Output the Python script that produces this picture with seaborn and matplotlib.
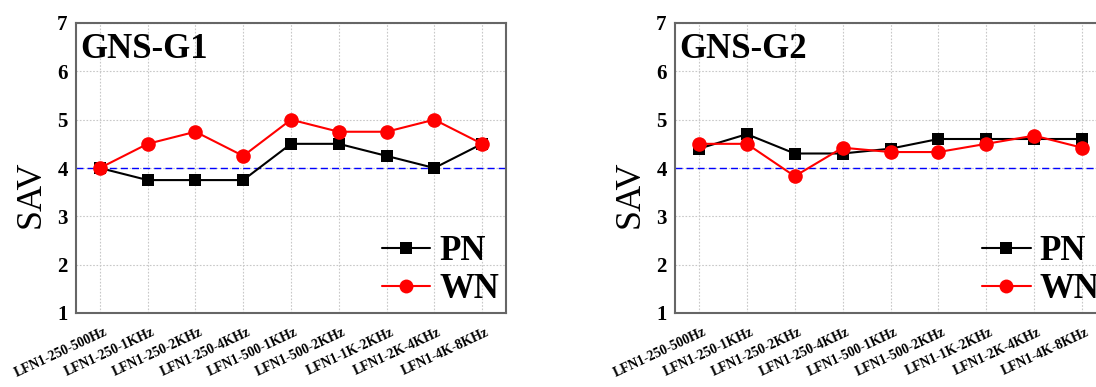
import matplotlib
matplotlib.use("Agg")
import matplotlib.pyplot as plt
import matplotlib.transforms as mtransforms
import numpy as np
import pandas as pd
import seaborn as sns

# Frequency-band conditions on the x axis
categories = [
    "LFN1-250-500Hz", "LFN1-250-1KHz", "LFN1-250-2KHz", "LFN1-250-4KHz",
    "LFN1-500-1KHz", "LFN1-500-2KHz", "LFN1-1K-2KHz", "LFN1-2K-4KHz",
    "LFN1-4K-8KHz",
]

# Mean SAV scores per group and noise type
g1_pn = [4.0, 3.75, 3.75, 3.75, 4.5, 4.5, 4.25, 4.0, 4.5]
g1_wn = [4.0, 4.5, 4.75, 4.25, 5.0, 4.75, 4.75, 5.0, 4.5]
g2_pn = [4.4, 4.7, 4.3, 4.3, 4.4, 4.6, 4.6, 4.6, 4.6]
g2_wn = [4.5, 4.5, 3.83, 4.42, 4.33, 4.33, 4.5, 4.67, 4.42]

panels = [("GNS-G1", g1_pn, g1_wn), ("GNS-G2", g2_pn, g2_wn)]
reference_level = 4.0
y_ticks = [1, 2, 3, 4, 5, 6, 7]

sns.set_theme(style="white")
plt.rcParams["font.family"] = ["Liberation Serif", "DejaVu Serif"]
plt.rcParams["axes.unicode_minus"] = False
plt.rcParams["text.color"] = "black"
plt.rcParams["axes.labelcolor"] = "black"
plt.rcParams["xtick.labelcolor"] = "black"
plt.rcParams["ytick.labelcolor"] = "black"

W, H = 1096, 387
fig = plt.figure(figsize=(W / 100, H / 100), dpi=100)

# Axes boxes in pixels: (left, bottom, width, height)
boxes = [(76, 74, 430, 290), (675, 74, 431, 290)]

spine_color = "#666666"
for (title, pn, wn), (l, b, w, h) in zip(panels, boxes):
    ax = fig.add_axes([l / W, b / H, w / W, h / H])
    df = pd.DataFrame({
        "x": list(range(len(categories))) * 2,
        "SAV": pn + wn,
        "noise": ["PN"] * len(pn) + ["WN"] * len(wn),
    })
    ax.axhline(reference_level, color="blue", lw=1.0, ls=(0, (5, 3)), zorder=1)
    sns.lineplot(
        data=df, x="x", y="SAV", hue="noise", style="noise",
        hue_order=["PN", "WN"], style_order=["PN", "WN"],
        palette={"PN": "black", "WN": "red"},
        markers={"PN": "s", "WN": "o"}, dashes=False,
        markersize=9, linewidth=1.5, markeredgewidth=0,
        ax=ax, zorder=3,
    )
    # Circles drawn slightly larger than the squares
    for line in ax.get_lines():
        if line.get_marker() == "o":
            line.set_markersize(10.5)

    ax.set_xlim(-0.5, len(categories) - 0.5)
    ax.set_ylim(1, 7)
    ax.set_yticks(y_ticks)
    ax.set_yticklabels([str(t) for t in y_ticks], fontsize=15, fontweight="bold")
    ax.set_xticks(range(len(categories)))
    ax.set_xticklabels(categories, rotation=25, ha="right", fontsize=9.8,
                       fontweight="bold")

    ax.grid(True, color="#c8c8c8", ls=(0, (1.5, 1.5)), lw=0.8)
    ax.set_axisbelow(True)
    ax.tick_params(axis="x", direction="in", length=4, width=1,
                   color=spine_color, pad=9)
    ax.tick_params(axis="y", direction="in", length=4, width=1,
                   color=spine_color, pad=6)
    # Nudge the slanted category labels to the right of their ticks
    offset = mtransforms.ScaledTranslation(9 / 100, 0, fig.dpi_scale_trans)
    for lab in ax.xaxis.get_majorticklabels():
        lab.set_transform(lab.get_transform() + offset)

    for sp in ax.spines.values():
        sp.set_color(spine_color)
        sp.set_linewidth(1.5)

    ax.set_xlabel("")
    ax.set_ylabel("SAV", fontsize=26)
    ax.yaxis.set_label_coords(-0.066, 0.41)

    ax.text(0.01, 0.965, title, transform=ax.transAxes, ha="left", va="top",
            fontsize=25, fontweight="bold")

    leg = ax.legend(loc="lower right", frameon=False,
                    prop={"size": 25, "weight": "bold"},
                    handlelength=1.4, handletextpad=0.25,
                    labelspacing=0.15, borderaxespad=0.1, borderpad=0.1)
    for handle in leg.legend_handles:
        if handle.get_marker() == "s":
            handle.set_markersize(8)
        elif handle.get_marker() == "o":
            handle.set_markersize(10)

fig.savefig("out.png", dpi=100)
